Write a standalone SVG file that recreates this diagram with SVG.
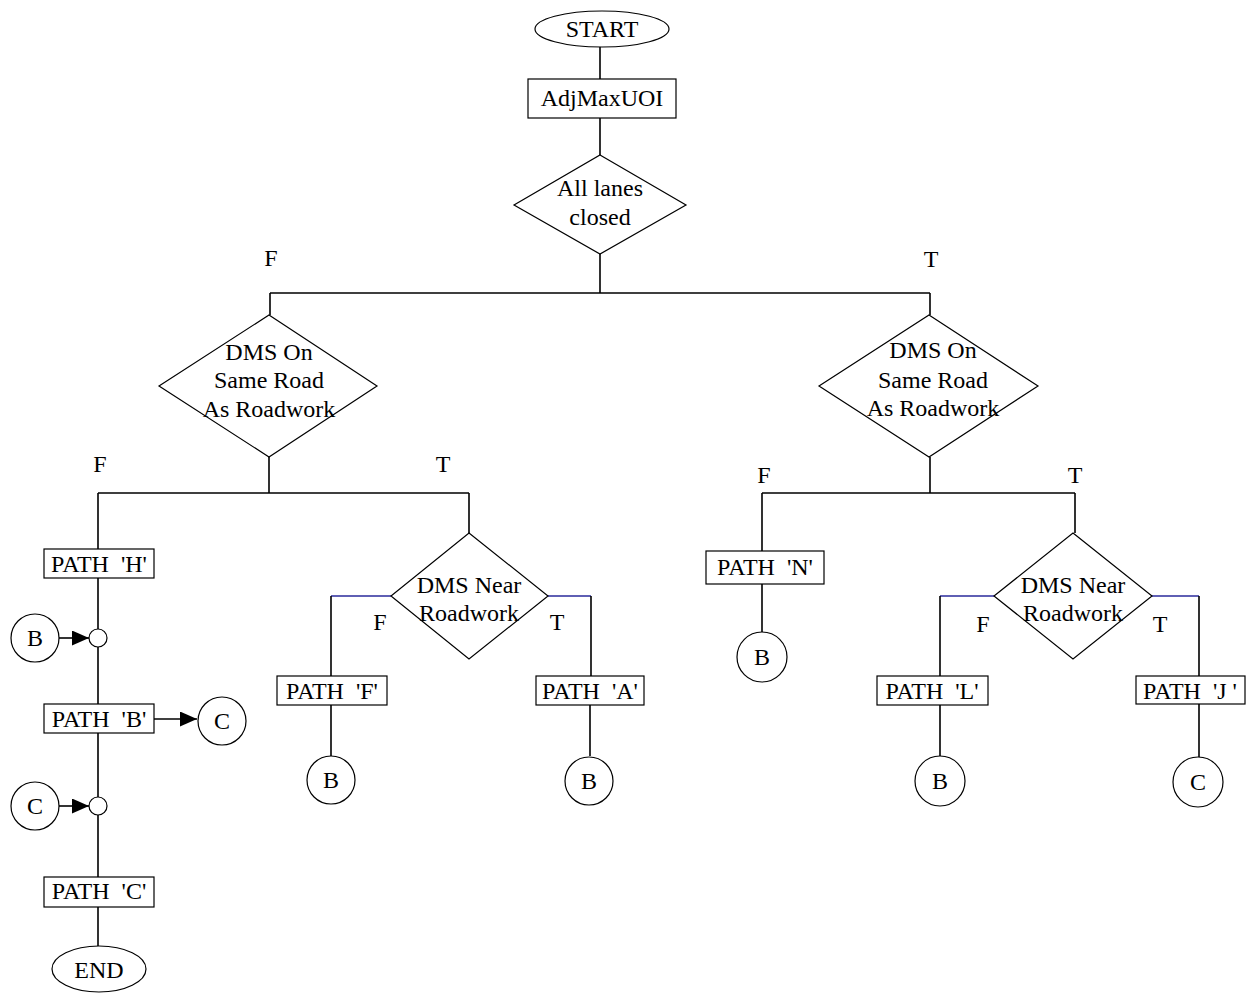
<svg xmlns="http://www.w3.org/2000/svg" width="1247" height="993" viewBox="0 0 1247 993">
<style>
text{font-family:"Liberation Serif","Times New Roman",serif;font-size:24px;fill:#000;text-anchor:middle}
.sh{fill:#fff;stroke:#000;stroke-width:1.2}
.ln{fill:none;stroke:#000;stroke-width:1.6}
.bl{fill:none;stroke:#2b2b9c;stroke-width:1.6}
</style>
<defs>
<marker id="ah" markerUnits="userSpaceOnUse" markerWidth="17" markerHeight="15" refX="17" refY="7.5" orient="auto">
<path d="M0,0 L17,7.5 L0,15 Z" fill="#000"/>
</marker>
</defs>
<rect width="1247" height="993" fill="#fff"/>
<g id="connectors">
<path class="ln" d="M600,47 V79 M600,118 V155 M600,254 V293 M270,293 H930 M270,293 V315 M930,293 V315"/>
<path class="ln" d="M269,457 V493 M98,493 H469 M98,493 V549 M469,493 V533"/>
<path class="ln" d="M98,578 V629 M98,647 V704 M98,733 V797 M98,815 V877 M98,907 V946"/>
<line class="ln" x1="59" y1="638" x2="89" y2="638" marker-end="url(#ah)"/>
<line class="ln" x1="154" y1="719" x2="197" y2="719" marker-end="url(#ah)"/>
<line class="ln" x1="59" y1="806" x2="89" y2="806" marker-end="url(#ah)"/>
<path class="bl" d="M391,596 H331 M548,596 H591"/>
<path class="ln" d="M331,596 V676 M591,596 V676 M331,705 V756 M590,705 V756"/>
<path class="ln" d="M930,457 V493 M762,493 H1075 M762,493 V551 M1075,493 V533 M762,584 V632"/>
<path class="bl" d="M994,596 H940 M1152,596 H1199"/>
<path class="ln" d="M940,596 V676 M1199,596 V676 M940,705 V756 M1199,704 V757"/>
</g>
<g id="labels">
<text x="271" y="266">F</text>
<text x="931" y="267">T</text>
<text x="100" y="472">F</text>
<text x="443" y="472">T</text>
<text x="764" y="483">F</text>
<text x="1075" y="483">T</text>
<text x="380" y="630">F</text>
<text x="557" y="630">T</text>
<text x="983" y="632">F</text>
<text x="1160" y="632">T</text>
</g>
<g id="start"><ellipse class="sh" cx="602" cy="29" rx="67" ry="18"/><text x="602" y="37">START</text></g>
<g id="adjmaxuoi"><rect class="sh" x="528" y="79" width="148" height="39"/><text x="602" y="106">AdjMaxUOI</text></g>
<g id="all-lanes"><polygon class="sh" points="600,155 686,205 600,254 514,205"/><text x="600" y="196">All lanes</text><text x="600" y="225">closed</text></g>
<g id="dms-on-left"><polygon class="sh" points="269,315 377,386 269,457 159,386"/><text x="269" y="360">DMS On</text><text x="269" y="388">Same Road</text><text x="269" y="417">As Roadwork</text></g>
<g id="dms-on-right"><polygon class="sh" points="929,315 1038,386 929,457 819,386"/><text x="933" y="358">DMS On</text><text x="933" y="388">Same Road</text><text x="933" y="416">As Roadwork</text></g>
<g id="path-h"><rect class="sh" x="44" y="549" width="110" height="29"/><text x="99" y="572" xml:space="preserve">PATH  'H'</text></g>
<g id="conn-b1"><circle class="sh" cx="35" cy="638" r="24"/><text x="35" y="646">B</text></g>
<g id="junction1"><circle class="sh" cx="98" cy="638" r="9"/></g>
<g id="path-b"><rect class="sh" x="44" y="704" width="110" height="29"/><text x="99" y="727" xml:space="preserve">PATH  'B'</text></g>
<g id="conn-c1"><circle class="sh" cx="222" cy="721" r="24"/><text x="222" y="729">C</text></g>
<g id="conn-c2"><circle class="sh" cx="35" cy="806" r="24"/><text x="35" y="814">C</text></g>
<g id="junction2"><circle class="sh" cx="98" cy="806" r="9"/></g>
<g id="path-c"><rect class="sh" x="44" y="877" width="110" height="30"/><text x="99" y="899" xml:space="preserve">PATH  'C'</text></g>
<g id="end"><ellipse class="sh" cx="99" cy="969" rx="47" ry="23"/><text x="99" y="978">END</text></g>
<g id="dms-near-left"><polygon class="sh" points="469,533 548,596 469,659 391,596"/><text x="469" y="593">DMS Near</text><text x="469" y="621">Roadwork</text></g>
<g id="path-f"><rect class="sh" x="277" y="676" width="110" height="29"/><text x="332" y="699" xml:space="preserve">PATH  'F'</text></g>
<g id="path-a"><rect class="sh" x="536" y="676" width="108" height="29"/><text x="590" y="699" xml:space="preserve">PATH  'A'</text></g>
<g id="conn-b2"><circle class="sh" cx="331" cy="780" r="24"/><text x="331" y="788">B</text></g>
<g id="conn-b3"><circle class="sh" cx="589" cy="781" r="24"/><text x="589" y="789">B</text></g>
<g id="path-n"><rect class="sh" x="706" y="551" width="118" height="33"/><text x="765" y="575" xml:space="preserve">PATH  'N'</text></g>
<g id="conn-b4"><circle class="sh" cx="762" cy="657" r="25"/><text x="762" y="665">B</text></g>
<g id="dms-near-right"><polygon class="sh" points="1073,533 1152,596 1073,659 994,596"/><text x="1073" y="593">DMS Near</text><text x="1073" y="621">Roadwork</text></g>
<g id="path-l"><rect class="sh" x="877" y="676" width="111" height="29"/><text x="932" y="699" xml:space="preserve">PATH  'L'</text></g>
<g id="path-j"><rect class="sh" x="1136" y="676" width="109" height="28"/><text x="1190" y="699" xml:space="preserve">PATH  'J '</text></g>
<g id="conn-b5"><circle class="sh" cx="940" cy="781" r="25"/><text x="940" y="789">B</text></g>
<g id="conn-c3"><circle class="sh" cx="1198" cy="782" r="25"/><text x="1198" y="790">C</text></g>
</svg>
